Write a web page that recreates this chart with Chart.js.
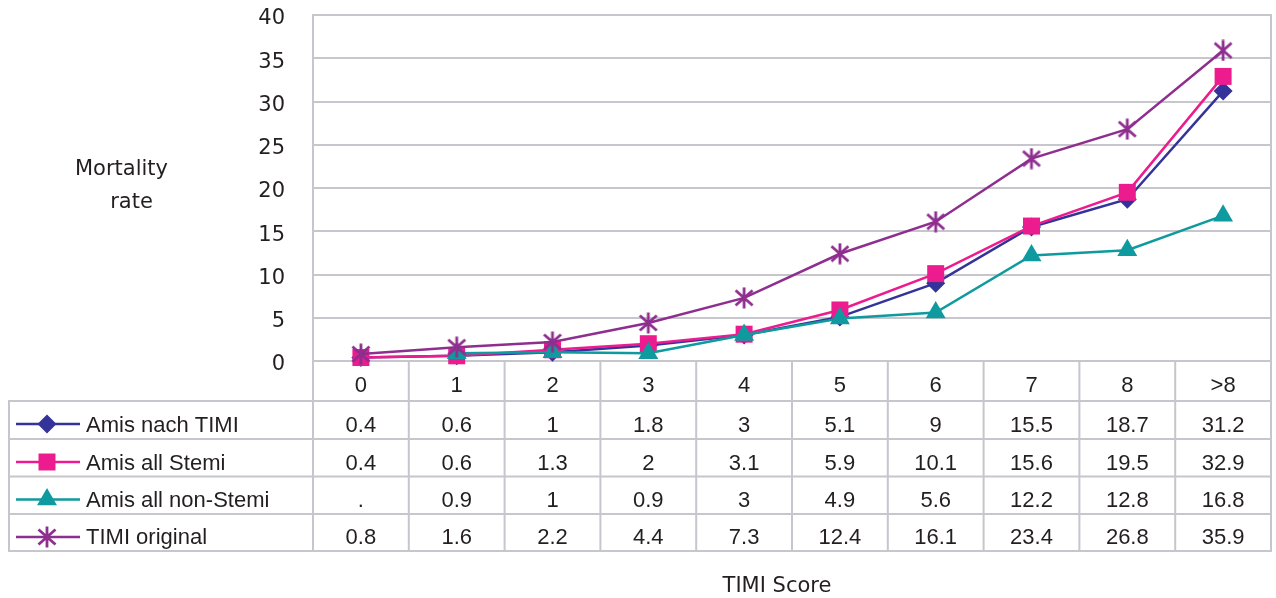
<!DOCTYPE html>
<html>
<head>
<meta charset="utf-8">
<title>TIMI Score – Mortality rate</title>
<script src="https://cdn.jsdelivr.net/npm/chart.js@4/dist/chart.umd.min.js"></script>
<style>
  html, body { margin: 0; padding: 0; background: #ffffff; }
  #wrap { width: 1276px; height: 598px; }
</style>
</head>
<body>
<div id="wrap"><canvas id="c" width="1276" height="598"></canvas></div>
<script>
// TIMI score categories and mortality rates (%) per cohort
const categories = ['0', '1', '2', '3', '4', '5', '6', '7', '8', '>8'];
const amisNachTimi = [0.4, 0.6, 1, 1.8, 3, 5.1, 9, 15.5, 18.7, 31.2];
const amisAllStemi = [0.4, 0.6, 1.3, 2, 3.1, 5.9, 10.1, 15.6, 19.5, 32.9];
const amisAllNonStemi = [null, 0.9, 1, 0.9, 3, 4.9, 5.6, 12.2, 12.8, 16.8];
const timiOriginal = [0.8, 1.6, 2.2, 4.4, 7.3, 12.4, 16.1, 23.4, 26.8, 35.9];
const yTicks = [0, 5, 10, 15, 20, 25, 30, 35, 40];

const seriesNames = ['Amis nach TIMI', 'Amis all Stemi', 'Amis all non-Stemi', 'TIMI original'];
const seriesColors = ['#333399', '#ec1c8e', '#0e9a9e', '#8e2e8e'];

const GRID = '#c6c6cc';
const TEXT = '#231f20';
const TABLE_FONT = '22px "Liberation Sans", Arial, sans-serif';
const AXIS_FONT = '21px "DejaVu Sans", Verdana, sans-serif';

// plot box edges on the page
const PLOT_LEFT = 313;
const PLOT_RIGHT = 1271;

// asterisk marker (vertical bar + X)
function makeAsterisk(color) {
  const cv = document.createElement('canvas');
  cv.width = 22; cv.height = 22;
  const g = cv.getContext('2d');
  g.strokeStyle = color;
  g.lineWidth = 2.8;
  g.lineCap = 'butt';
  g.beginPath();
  g.moveTo(11, 0.5); g.lineTo(11, 21.5);
  g.moveTo(2.5, 3.5); g.lineTo(19.5, 18.5);
  g.moveTo(2.5, 18.5); g.lineTo(19.5, 3.5);
  g.stroke();
  return cv;
}
const asterisk = makeAsterisk(seriesColors[3]);

const markerStyles = ['rectRot', 'rect', 'triangle', asterisk];
const markerRadius = [9.5, 12, 11.5, 11];

// table geometry below the plot
const TABLE_LEFT = 9;
const HEADER_BOTTOM = 401;
const ROW_BOTTOMS = [439, 476.5, 514, 551];

function drawMarker(ctx, idx, x, y) {
  const c = seriesColors[idx];
  ctx.save();
  ctx.fillStyle = c;
  ctx.beginPath();
  if (idx === 0) {
    const r = markerRadius[0];
    ctx.moveTo(x, y - r); ctx.lineTo(x + r, y); ctx.lineTo(x, y + r); ctx.lineTo(x - r, y);
    ctx.closePath(); ctx.fill();
  } else if (idx === 1) {
    const s = markerRadius[1] * Math.SQRT1_2;
    ctx.fillRect(x - s, y - s, 2 * s, 2 * s);
  } else if (idx === 2) {
    const r = markerRadius[2];
    ctx.moveTo(x, y - r);
    ctx.lineTo(x + Math.sin(2 * Math.PI / 3) * r, y - Math.cos(2 * Math.PI / 3) * r);
    ctx.lineTo(x + Math.sin(4 * Math.PI / 3) * r, y - Math.cos(4 * Math.PI / 3) * r);
    ctx.closePath(); ctx.fill();
  } else {
    ctx.drawImage(asterisk, x - asterisk.width / 2, y - asterisk.height / 2);
  }
  ctx.restore();
}

const tablePlugin = {
  id: 'dataTable',
  beforeDatasetsDraw(chart) {
    const { ctx, chartArea } = chart;
    const n = categories.length;
    const colW = (chartArea.right - chartArea.left) / n;
    const bottom = ROW_BOTTOMS[ROW_BOTTOMS.length - 1];
    ctx.save();
    ctx.strokeStyle = GRID;
    ctx.lineWidth = 2;
    ctx.beginPath();
    // column separators (header + body)
    for (let i = 0; i <= n; i++) {
      const px = chartArea.left + i * colW;
      const top = (i === 0 || i === n) ? chartArea.top - 1 : chartArea.bottom;
      ctx.moveTo(px, top);
      ctx.lineTo(px, bottom);
    }
    // outer left border of the legend column
    ctx.moveTo(TABLE_LEFT, HEADER_BOTTOM - 1);
    ctx.lineTo(TABLE_LEFT, bottom + 1);
    // row lines
    [HEADER_BOTTOM].concat(ROW_BOTTOMS).forEach(y => {
      ctx.moveTo(TABLE_LEFT - 1, y);
      ctx.lineTo(chartArea.right + 1, y);
    });
    ctx.stroke();
    ctx.restore();
  },
  afterDraw(chart) {
    const { ctx, scales } = chart;
    const x = scales.x;
    const datasets = [amisNachTimi, amisAllStemi, amisAllNonStemi, timiOriginal];
    ctx.save();
    ctx.fillStyle = TEXT;
    ctx.textBaseline = 'alphabetic';

    // header row: category labels
    ctx.font = TABLE_FONT;
    ctx.textAlign = 'center';
    categories.forEach((c, i) => ctx.fillText(c, x.getPixelForValue(i), HEADER_BOTTOM - 9));

    // body rows: legend key + values
    datasets.forEach((vals, r) => {
      const base = ROW_BOTTOMS[r] - 7;
      const top = r === 0 ? HEADER_BOTTOM : ROW_BOTTOMS[r - 1];
      const keyY = top + 23;
      ctx.save();
      ctx.strokeStyle = seriesColors[r];
      ctx.lineWidth = 2.5;
      ctx.beginPath();
      ctx.moveTo(16, keyY); ctx.lineTo(80, keyY);
      ctx.stroke();
      ctx.restore();
      drawMarker(ctx, r, 47, keyY);
      ctx.fillStyle = TEXT;
      ctx.font = TABLE_FONT;
      ctx.textAlign = 'left';
      ctx.fillText(seriesNames[r], 86, base);
      ctx.textAlign = 'center';
      vals.forEach((v, i) => ctx.fillText(v === null ? '.' : String(v), x.getPixelForValue(i), base));
    });

    // axis titles
    ctx.font = AXIS_FONT;
    ctx.textAlign = 'center';
    ctx.fillText('Mortality', 121.5, 175);
    ctx.fillText('rate', 131.5, 208);
    ctx.fillText('TIMI Score', 777, 592);
    ctx.restore();
  }
};

function series(idx, data, order) {
  return {
    label: seriesNames[idx],
    data: data,
    borderColor: seriesColors[idx],
    backgroundColor: seriesColors[idx],
    borderWidth: 2.5,
    pointStyle: markerStyles[idx],
    pointRadius: markerRadius[idx],
    pointHoverRadius: markerRadius[idx],
    pointBackgroundColor: seriesColors[idx],
    pointBorderColor: seriesColors[idx],
    pointBorderWidth: 0,
    tension: 0,
    fill: false,
    clip: false,
    spanGaps: false,
    order: order
  };
}

function noPad(scale) {
  scale.paddingTop = 0;
  scale.paddingBottom = 0;
  scale.paddingLeft = 0;
  scale.paddingRight = 0;
}

// pin the plot box horizontally once the layout has run
const plotBox = {
  id: 'plotBox',
  afterLayout(chart) {
    const ca = chart.chartArea;
    ca.left = PLOT_LEFT;
    ca.right = PLOT_RIGHT;
    ca.width = PLOT_RIGHT - PLOT_LEFT;
    const x = chart.scales.x;
    x.left = PLOT_LEFT; x.right = PLOT_RIGHT; x.width = PLOT_RIGHT - PLOT_LEFT;
    x.configure();
    const y = chart.scales.y;
    y.right = PLOT_LEFT; y.width = PLOT_LEFT - y.left;
  }
};

new Chart(document.getElementById('c'), {
  type: 'line',
  data: {
    labels: categories,
    datasets: [
      series(0, amisNachTimi, 3),
      series(1, amisAllStemi, 2),
      series(2, amisAllNonStemi, 1),
      series(3, timiOriginal, 0)
    ]
  },
  options: {
    responsive: false,
    devicePixelRatio: 1,
    animation: false,
    events: [],
    layout: { padding: { left: 0, right: 5, top: 15, bottom: 237 } },
    plugins: {
      legend: { display: false },
      tooltip: { enabled: false },
      title: { display: false }
    },
    scales: {
      x: {
        type: 'category',
        display: false,
        offset: true,
        afterFit: noPad
      },
      y: {
        type: 'linear',
        min: 0,
        max: 40,
        afterFit(scale) { scale.width = PLOT_LEFT; noPad(scale); },
        afterBuildTicks(scale) { scale.ticks = yTicks.map(v => ({ value: v })); },
        ticks: {
          color: TEXT,
          font: { family: '"DejaVu Sans", Verdana, sans-serif', size: 21 },
          padding: 28,
          labelOffset: 4
        },
        grid: { color: GRID, lineWidth: 2, drawTicks: false },
        border: { display: true, color: GRID, width: 2 }
      }
    }
  },
  plugins: [plotBox, tablePlugin]
});
</script>
</body>
</html>
